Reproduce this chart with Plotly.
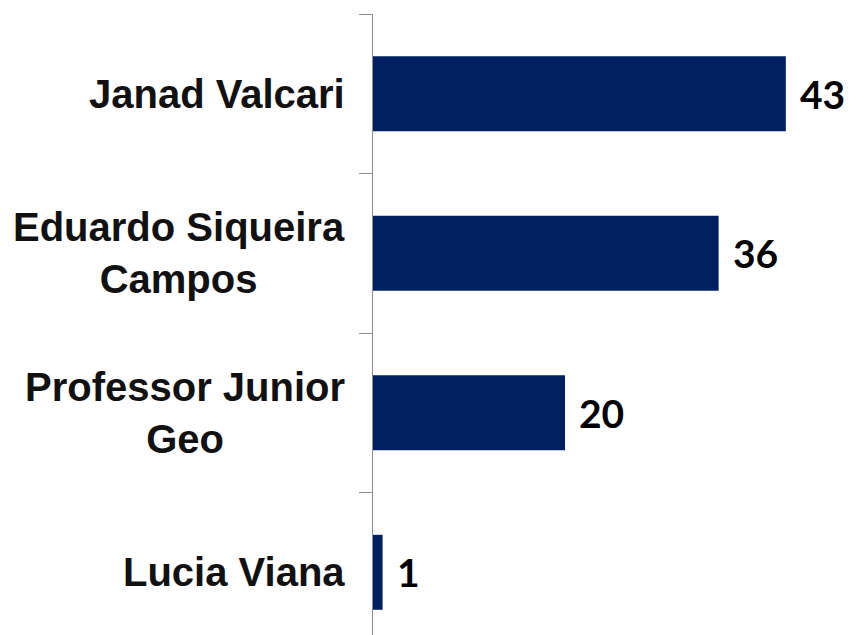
import plotly.graph_objects as go

categories = ["Janad Valcari", "Eduardo Siqueira<br>Campos", "Professor Junior<br>Geo", "Lucia Viana"]
values = [43, 36, 20, 1]
value_labels = ["43", "36", "20", "1"]

BAR_COLOR = "#002060"
AXIS_COLOR = "#8c8c8c"

fig = go.Figure()
fig.add_trace(go.Bar(
    x=values,
    y=categories,
    orientation="h",
    marker=dict(color=BAR_COLOR, line=dict(width=0)),
    width=0.47,
    hoverinfo="skip",
))

annotations = []
for cat, v, lab in zip(categories, values, value_labels):
    annotations.append(dict(
        x=v, y=cat, xref="x", yref="y", text=lab, showarrow=False,
        xanchor="left", yanchor="middle", xshift=12,
        font=dict(family="Lato", size=39, color="#000000", weight="bold"),
    ))
    annotations.append(dict(
        x=0, y=cat, xref="x", yref="y", text=cat, showarrow=False,
        xanchor="right", yanchor="middle", xshift=-26, align="center",
        font=dict(family="Liberation Sans", size=40, color="#111111", weight="bold"),
    ))

fig.update_layout(
    width=846, height=627,
    margin=dict(l=365, r=0, t=6, b=0),
    paper_bgcolor="white", plot_bgcolor="white",
    showlegend=False,
    annotations=annotations,
    xaxis=dict(range=[0, 50.1], visible=False, fixedrange=True),
    yaxis=dict(
        type="category",
        categoryorder="array", categoryarray=categories,
        range=[3.393, -0.5],
        showline=True, linecolor=AXIS_COLOR, linewidth=1.3,
        ticks="outside", ticklen=13, tickcolor=AXIS_COLOR, tickwidth=1.3,
        tickson="boundaries",
        showticklabels=False, showgrid=False, zeroline=False,
    ),
    bargap=0.53,
)

fig.write_html("out.html")
